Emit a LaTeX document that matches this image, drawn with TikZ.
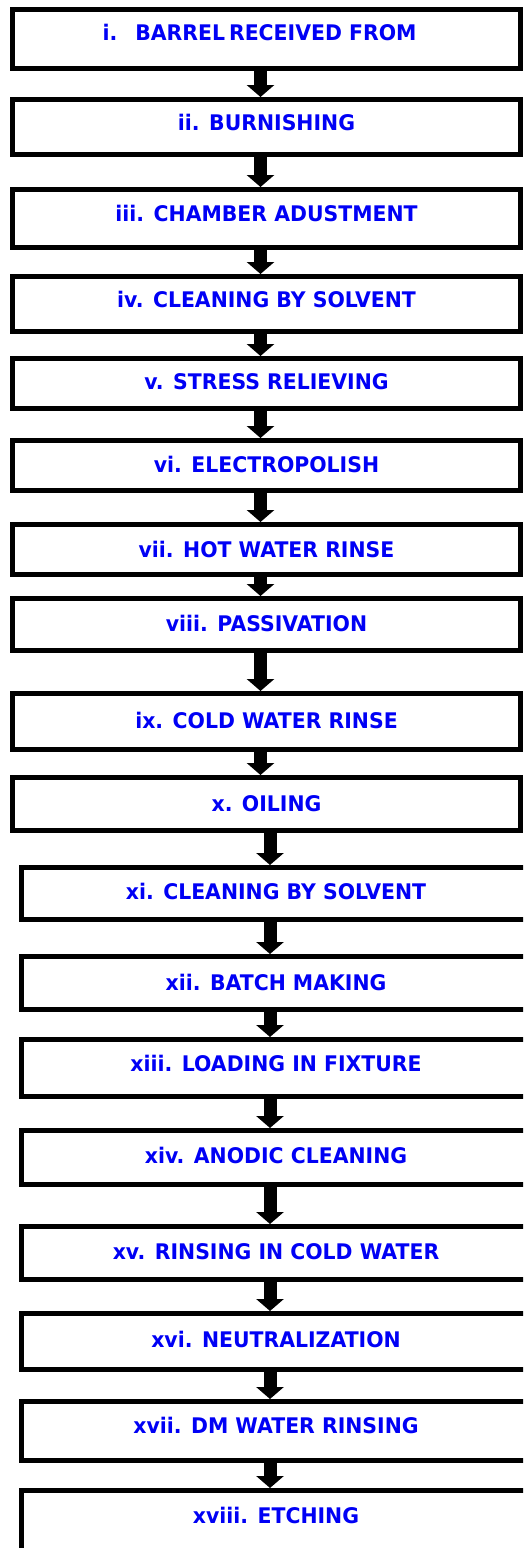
\documentclass[tikz,border=0pt]{standalone}
\usepackage{fontspec}
\newfontfamily\boxfont{DejaVu Sans}[FakeStretch=0.95]
\usetikzlibrary{arrows.meta}
\definecolor{stepblue}{RGB}{0,0,245}
\tikzset{
  stepbox/.style={draw=black, line width=5pt, fill=white, rectangle,
    text=stepblue, font=\boxfont\bfseries\fontsize{21.5pt}{24pt}\selectfont,
    text height=15.7pt, inner sep=0pt},
  upper/.style={minimum width=508pt},
  lower/.style={minimum width=509pt},
  arr/.style={draw=black, line width=13pt, -{Triangle[width=27pt,length=12pt]}}
}
\begin{document}
\begin{tikzpicture}[x=1pt,y=-1pt]
\useasboundingbox (0,0) rectangle (523,1548);
\clip (0,0) rectangle (523,1548);
\fill[white] (0,0) rectangle (523,1548);
% upper boxes (x 10..523)
\node[stepbox, upper, minimum height=59pt, text depth=12pt] (n1) at (266.5,39) {i.\hspace{18pt}BARREL\hspace{4pt}RECEIVED FROM\hspace*{14pt}};
\node[stepbox, upper, minimum height=55pt, text depth=8pt] (n2) at (266.5,127) {ii. BURNISHING};
\node[stepbox, upper, minimum height=58pt, text depth=10pt] (n3) at (266.5,218.5) {iii. CHAMBER ADUSTMENT};
\node[stepbox, upper, minimum height=55pt, text depth=8pt] (n4) at (266.5,304) {iv. CLEANING BY SOLVENT};
\node[stepbox, upper, minimum height=50pt, text depth=3pt] (n5) at (266.5,383.5) {v. STRESS RELIEVING};
\node[stepbox, upper, minimum height=50pt, text depth=1pt] (n6) at (266.5,465.5) {vi. ELECTROPOLISH};
\node[stepbox, upper, minimum height=50pt, text depth=0pt] (n7) at (266.5,549.5) {vii. HOT WATER RINSE};
\node[stepbox, upper, minimum height=52pt, text depth=2pt] (n8) at (266.5,624.5) {viii. PASSIVATION};
\node[stepbox, upper, minimum height=56pt, text depth=2pt] (n9) at (266.5,721.5) {ix. COLD WATER RINSE};
\node[stepbox, upper, minimum height=53pt, text depth=0pt] (n10) at (266.5,804) {x. OILING};
% lower boxes (x 19..533)
\node[stepbox, lower, minimum height=52pt, text depth=3pt] (n11) at (276,893.5) {xi. CLEANING BY SOLVENT};
\node[stepbox, lower, minimum height=53pt, text depth=0pt] (n12) at (276,983) {xii. BATCH MAKING};
\node[stepbox, lower, minimum height=57pt, text depth=8pt] (n13) at (276,1068) {xiii. LOADING IN FIXTURE};
\node[stepbox, lower, minimum height=54pt, text depth=4pt] (n14) at (276,1157.5) {xiv. ANODIC CLEANING};
\node[stepbox, lower, minimum height=53pt, text depth=3pt] (n15) at (276,1253) {xv. RINSING IN COLD WATER};
\node[stepbox, lower, minimum height=56pt, text depth=4pt] (n16) at (276,1341.5) {xvi. NEUTRALIZATION};
\node[stepbox, lower, minimum height=59pt, text depth=10pt] (n17) at (276,1431) {xvii. DM WATER RINSING};
\node[stepbox, lower, minimum height=62pt, text depth=12pt] (n18) at (276,1521.5) {xviii. ETCHING};
% arrows
\foreach \a/\b in {n1/n2,n2/n3,n3/n4,n4/n5,n5/n6,n6/n7,n7/n8,n8/n9,n9/n10,
                   n11/n12,n12/n13,n13/n14,n14/n15,n15/n16,n16/n17,n17/n18}
  \draw[arr] ([xshift=-6pt]\a.south) -- ([xshift=-6pt]\b.north);
\draw[arr] ([xshift=3.5pt]n10.south) -- ([xshift=-6pt]n11.north);
\end{tikzpicture}
\end{document}
